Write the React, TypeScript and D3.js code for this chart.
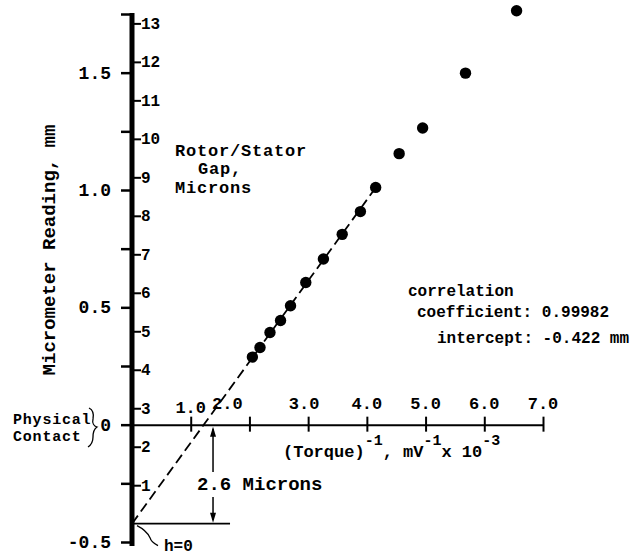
import React, { useRef, useEffect } from 'react';
import * as d3 from 'd3';

// (Torque)^-1, mV^-1 x 10^-3  vs  micrometer reading, mm
const invTorque = [2.05, 2.18, 2.35, 2.53, 2.7, 2.96, 3.26, 3.58, 3.89, 4.15, 4.55, 4.95, 5.68, 6.55];
const reading = [0.288, 0.329, 0.393, 0.444, 0.507, 0.606, 0.706, 0.811, 0.908, 1.011, 1.155, 1.264, 1.498, 1.764];

const xTicks = [1, 2, 3, 4, 5, 6, 7];
const yTicks = [-0.5, -0.25, 0, 0.25, 0.5, 0.75, 1.0, 1.25, 1.5, 1.75];
const yLabels = [-0.5, 0, 0.5, 1.0, 1.5];
const micronTicks = [1, 2, 3, 4, 5, 6, 7, 8, 9, 10, 11, 12, 13];

// least squares fit
const intercept = -0.422;
const slope = 0.345;
const fitEnd = 4.15;
const mmPerMicron = 0.164;
const gapX = 1.38; // where the 2.6 micron arrow sits

const FONT = "'Liberation Mono', 'DejaVu Sans Mono', 'Courier New', monospace";

const App = () => {
  const svgRef = useRef(null);

  useEffect(() => {
    const svg = d3.select(svgRef.current);
    svg.selectAll('*').remove();

    const x = d3.scaleLinear().domain([0, 7]).range([132, 543]);
    const y = d3.scaleLinear().domain([-0.5, 1.75]).range([542, 14]);
    const micron = d3.scaleLinear()
      .domain([0, 13])
      .range([y(intercept), y(intercept + mmPerMicron * 13)]);

    const txt = (sel, size) => sel
      .style('font-family', FONT)
      .style('font-weight', 'bold')
      .style('font-size', `${size}px`)
      .attr('fill', '#000');

    // dashed fit line
    const line = d3.line().x((d) => x(d[0])).y((d) => y(d[1]));
    svg.append('path')
      .datum([[0, intercept], [fitEnd, intercept + slope * fitEnd]])
      .attr('d', line)
      .attr('fill', 'none')
      .attr('stroke', '#000')
      .attr('stroke-width', 1.8)
      .attr('stroke-dasharray', '10,5');

    // x axis (crossing ticks)
    const xg = svg.append('g')
      .attr('transform', `translate(0, ${y(0)})`)
      .call(d3.axisBottom(x).tickValues(xTicks).tickSize(7).tickSizeOuter(0).tickFormat(() => ''));
    xg.select('.domain').attr('stroke-width', 2);
    xg.selectAll('.tick line').attr('y1', -8).attr('stroke-width', 2);

    svg.selectAll('.xlab')
      .data(xTicks)
      .enter()
      .append('text')
      .attr('x', (d) => x(d) + (d === 2 ? -22 : d === 3 ? -4 : 0))
      .attr('y', (d) => y(0) - (d === 1 ? 12 : 16))
      .attr('text-anchor', 'middle')
      .call(txt, 17)
      .text((d) => d.toFixed(1));

    // main y axis (mm)
    const yg = svg.append('g')
      .attr('transform', 'translate(132, 0)')
      .call(d3.axisLeft(y).tickValues(yTicks).tickSize(11).tickSizeOuter(0).tickFormat(() => ''));
    yg.select('.domain').attr('stroke-width', 5).attr('d', `M0,${y(1.75) - 1}V${y(-0.5) + 4}`);
    yg.selectAll('.tick line').attr('stroke-width', 2.5);

    svg.selectAll('.ylab')
      .data(yLabels)
      .enter()
      .append('text')
      .attr('x', 111)
      .attr('y', (d) => y(d) + 6)
      .attr('text-anchor', 'end')
      .call(txt, 18)
      .text((d) => (d === 0 ? '0' : d.toFixed(1)));

    // micron scale on the right of the axis
    const mg = svg.append('g')
      .attr('transform', 'translate(134, 0)')
      .call(d3.axisRight(micron).tickValues(micronTicks).tickSize(7).tickSizeOuter(0).tickFormat(() => ''));
    mg.select('.domain').remove();
    mg.selectAll('.tick line').attr('stroke-width', 2);

    svg.selectAll('.mlab')
      .data(micronTicks)
      .enter()
      .append('text')
      .attr('x', 141)
      .attr('y', (d) => micron(d) + 5.5)
      .call(txt, 16)
      .text((d) => d);

    // points
    svg.selectAll('circle')
      .data(invTorque.map((v, i) => [v, reading[i]]))
      .enter()
      .append('circle')
      .attr('cx', (d) => x(d[0]))
      .attr('cy', (d) => y(d[1]))
      .attr('r', 5.7)
      .attr('fill', '#000');

    // h = 0 line and 2.6 micron arrows
    const h0 = y(intercept);
    const ax = x(gapX);
    svg.append('line')
      .attr('x1', 132).attr('x2', ax + 17)
      .attr('y1', h0).attr('y2', h0)
      .attr('stroke', '#000').attr('stroke-width', 1.8);
    svg.append('line')
      .attr('x1', ax).attr('x2', ax)
      .attr('y1', y(0) + 4).attr('y2', 472)
      .attr('stroke', '#000').attr('stroke-width', 1.5);
    svg.append('path')
      .attr('d', `M${ax},${y(0) + 2}l-3,10h6z`)
      .attr('fill', '#000');
    svg.append('line')
      .attr('x1', ax).attr('x2', ax)
      .attr('y1', 497).attr('y2', h0 - 4)
      .attr('stroke', '#000').attr('stroke-width', 1.5);
    svg.append('path')
      .attr('d', `M${ax},${h0 - 1}l-3,-10h6z`)
      .attr('fill', '#000');
    svg.append('text')
      .attr('x', 197).attr('y', 490)
      .call(txt, 19)
      .text('2.6 Microns');

    // h=0 leader
    svg.append('path')
      .attr('d', `M137,${h0 + 2}C145,${h0 + 6} 148,${h0 + 10} 150,${h0 + 14}C151,${h0 + 18} 154,${h0 + 20} 158,${h0 + 22}`)
      .attr('fill', 'none')
      .attr('stroke', '#000')
      .attr('stroke-width', 1.3);
    svg.append('text')
      .attr('x', 164).attr('y', 551)
      .call(txt, 16)
      .text('h=0');

    // Physical contact
    svg.append('text').attr('x', 13).attr('y', 424).call(txt, 15).attr('letter-spacing', 0.8).text('Physical');
    svg.append('text').attr('x', 13).attr('y', 441).call(txt, 15).attr('letter-spacing', 0.8).text('Contact');
    svg.append('path')
      .attr('d', 'M89,408C93,410 94,414 93,419C92,423 94,426 97,427C94,429 93,433 93,437C93,442 91,445 88,447')
      .attr('fill', 'none')
      .attr('stroke', '#000')
      .attr('stroke-width', 1.3);

    // rotor/stator gap label
    svg.append('text').attr('x', 175).attr('y', 156).call(txt, 17).attr('letter-spacing', 0.8).text('Rotor/Stator');
    svg.append('text').attr('x', 198).attr('y', 174).call(txt, 17).attr('letter-spacing', 0.8).text('Gap,');
    svg.append('text').attr('x', 175).attr('y', 193).call(txt, 17).attr('letter-spacing', 0.8).text('Microns');

    // fit stats
    svg.append('text').attr('x', 408).attr('y', 296).call(txt, 16).text('correlation');
    svg.append('text').attr('x', 417).attr('y', 317).call(txt, 16).text('coefficient: 0.99982');
    svg.append('text').attr('x', 437).attr('y', 343).call(txt, 16).text('intercept: -0.422 mm');

    // x axis label
    const xl = svg.append('text').attr('x', 283).attr('y', 457).call(txt, 17);
    xl.append('tspan').text('(Torque)');
    xl.append('tspan').attr('dy', -12).style('font-size', '15px').text('-1');
    xl.append('tspan').attr('dy', 12).text(', mV');
    xl.append('tspan').attr('dy', -12).style('font-size', '15px').text('-1');
    xl.append('tspan').attr('dy', 12).text('x 10');
    xl.append('tspan').attr('dy', -12).style('font-size', '15px').text('-3');

    // y axis label
    svg.append('text')
      .attr('transform', 'translate(55, 250) rotate(-90)')
      .attr('text-anchor', 'middle')
      .call(txt, 19)
      .text('Micrometer Reading, mm');
  }, []);

  return (
    <svg
      ref={svgRef}
      width={631}
      height={555}
      style={{ position: 'absolute', left: 0, top: 0, background: '#fff' }}
    />
  );
};

export default App;
